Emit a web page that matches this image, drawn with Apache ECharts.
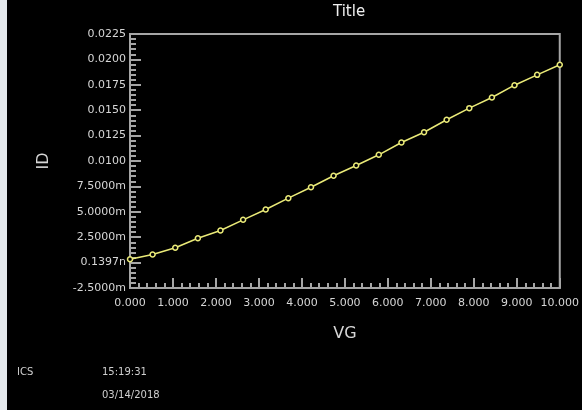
<!DOCTYPE html>
<html>
<head>
<meta charset="utf-8">
<script src="https://cdn.jsdelivr.net/npm/echarts@6/dist/echarts.min.js"></script>
<style>
html,body{margin:0;padding:0;background:#000;}
#c{width:582px;height:410px;}
</style>
</head>
<body>
<div id="c"></div>
<script>
var vgValues = [0, 0.526, 1.053, 1.579, 2.105, 2.632, 3.158, 3.684, 4.211, 4.737, 5.263, 5.789, 6.316, 6.842, 7.368, 7.895, 8.421, 8.947, 9.474, 10];
var idValues = [0.00033, 0.00080, 0.00146, 0.00240, 0.00316, 0.00421, 0.00523, 0.00634, 0.00742, 0.00855, 0.00956, 0.01061, 0.01182, 0.01283, 0.01406, 0.01520, 0.01625, 0.01746, 0.01848, 0.01947];
var yTickLabels = ['-2.5000m', '0.1397n', '2.5000m', '5.0000m', '7.5000m', '0.0100', '0.0125', '0.0150', '0.0175', '0.0200', '0.0225'];
var xTickLabels = ['0.000', '1.000', '2.000', '3.000', '4.000', '5.000', '6.000', '7.000', '8.000', '9.000', '10.000'];
var titleText = 'Title';
var xName = 'VG';
var yName = 'ID';
var footerLeft = 'ICS';
var footerTime = '15:19:31';
var footerDate = '03/14/2018';

var yMin = -0.0025, yMax = 0.0225, yInt = 0.0025;
var axisColor = '#a6a6a6';
var labelColor = '#d6d6d6';
var fontFam = '"DejaVu Sans", Verdana, sans-serif';

var chart = echarts.init(document.getElementById('c'), null, {renderer: 'canvas'});
var data = vgValues.map(function (x, i) { return [x, idValues[i]]; });

chart.setOption({
  backgroundColor: '#000',
  animation: false,
  grid: {left: 130, right: 15, top: 34, height: 254, show: true, borderColor: axisColor, borderWidth: 2, backgroundColor: 'transparent'},
  xAxis: {
    type: 'value', min: 0, max: 10, interval: 1,
    name: xName, nameLocation: 'middle', nameGap: 38,
    nameTextStyle: {color: labelColor, fontSize: 16, fontFamily: fontFam},
    axisLine: {show: true, onZero: false, lineStyle: {color: axisColor, width: 2}},
    axisTick: {show: true, inside: true, length: 10, lineStyle: {color: axisColor, width: 2}},
    minorTick: {show: true, splitNumber: 5, length: 5, lineStyle: {color: axisColor, width: 2}},
    splitLine: {show: false},
    axisLabel: {color: labelColor, fontSize: 11, fontFamily: fontFam, margin: 10,
      formatter: function (v) { return xTickLabels[Math.round(v)]; }}
  },
  yAxis: {
    type: 'value', min: yMin, max: yMax, interval: yInt,
    name: yName, nameLocation: 'middle', nameGap: 78, nameRotate: 90,
    nameTextStyle: {color: labelColor, fontSize: 16, fontFamily: fontFam},
    axisLine: {show: true, onZero: false, lineStyle: {color: axisColor, width: 2}},
    axisTick: {show: true, inside: true, length: 11, lineStyle: {color: axisColor, width: 2}},
    minorTick: {show: true, splitNumber: 5, length: 6, lineStyle: {color: axisColor, width: 2}},
    splitLine: {show: false},
    axisLabel: {color: labelColor, fontSize: 11, fontFamily: fontFam, margin: 4,
      formatter: function (v) { return yTickLabels[Math.round((v - yMin) / yInt)]; }}
  },
  series: [{
    type: 'line', data: data,
    symbol: 'circle', symbolSize: 5, showSymbol: true,
    lineStyle: {color: '#eaea78', width: 1.5},
    itemStyle: {color: '#000', borderColor: '#eaea78', borderWidth: 1.5},
    clip: false
  }],
  graphic: [
    {type: 'rect', left: 0, top: 0, shape: {width: 7, height: 410}, style: {fill: '#e4e8ec'}},
    {type: 'text', left: 333, top: 5, style: {text: titleText, fill: '#f0f0f0', font: '15px ' + fontFam}},
    {type: 'text', left: 17, top: 367, style: {text: footerLeft, fill: '#cfcfcf', font: '10px ' + fontFam}},
    {type: 'text', left: 102, top: 367, style: {text: footerTime, fill: '#cfcfcf', font: '10px ' + fontFam}},
    {type: 'text', left: 102, top: 390, style: {text: footerDate, fill: '#cfcfcf', font: '10px ' + fontFam}}
  ]
});
</script>
</body>
</html>
